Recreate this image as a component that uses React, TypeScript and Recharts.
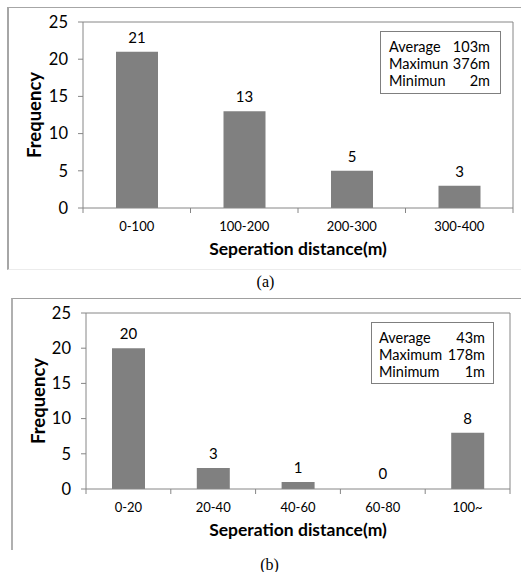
import { BarChart, Bar, XAxis, YAxis, CartesianGrid, LabelList, Rectangle } from 'recharts'

// (a) separation distance, 100 m bins
const catsA = ['0-100', '100-200', '200-300', '300-400']
const freqA = [21, 13, 5, 3]
const statLabelsA = ['Average', 'Maximun', 'Minimun']
const statValuesA = ['103m', '376m', '2m']

// (b) separation distance, 20 m bins
const catsB = ['0-20', '20-40', '40-60', '60-80', '100~']
const freqB = [20, 3, 1, 0, 8]
const statLabelsB = ['Average', 'Maximum', 'Minimum']
const statValuesB = ['43m', '178m', '1m']

const yTicks = [0, 5, 10, 15, 20, 25]

const FONT = 'Lato, "Open Sans", sans-serif'
const AXIS = '#868686'

interface Margin {
  top: number
  right: number
  bottom: number
  left: number
}

interface HistProps {
  cats: string[]
  freq: number[]
  width: number
  height: number
  margin: Margin
  yAxisWidth: number
  xAxisHeight: number
  barSize: number
}

// zero-count bins keep their label but draw no rectangle
const BarShape = (props: any) => {
  if (!props.value) return <g />
  return <Rectangle {...props} />
}

function Hist({ cats, freq, width, height, margin, yAxisWidth, xAxisHeight, barSize }: HistProps) {
  const data = cats.map((c, i) => ({ cat: c, value: freq[i] }))
  const plotW = width - margin.left - margin.right - yAxisWidth
  const band = plotW / cats.length
  const axisY = height - margin.bottom - xAxisHeight

  // tick marks sit on the category boundaries, like Excel
  const BoundaryTick = (props: any) => {
    const { x, payload, index } = props
    const left = x - band / 2
    return (
      <g>
        <line x1={left} x2={left} y1={axisY} y2={axisY + 5} stroke={AXIS} />
        {index === cats.length - 1 && (
          <line x1={left + band} x2={left + band} y1={axisY} y2={axisY + 5} stroke={AXIS} />
        )}
        <text x={x} y={axisY + 23} textAnchor="middle" fontSize={13} fill="#000" fontFamily={FONT}>
          {payload.value}
        </text>
      </g>
    )
  }

  return (
    <BarChart width={width} height={height} data={data} margin={margin}>
      <CartesianGrid
        stroke={AXIS}
        horizontalCoordinatesGenerator={({ offset }: any) => [offset.top]}
        verticalCoordinatesGenerator={({ offset }: any) => [offset.left + offset.width]}
      />
      <XAxis
        dataKey="cat"
        height={xAxisHeight}
        axisLine={{ stroke: AXIS }}
        tickLine={false}
        tick={BoundaryTick}
        interval={0}
        label={{
          value: 'Seperation distance(m)',
          position: 'insideBottom',
          offset: 13,
          style: { fontFamily: FONT, fontSize: 17.5, fontWeight: 700, fill: '#000' },
        }}
      />
      <YAxis
        width={yAxisWidth}
        domain={[0, 25]}
        ticks={yTicks}
        interval={0}
        axisLine={{ stroke: AXIS }}
        tickLine={{ stroke: AXIS }}
        tickSize={5}
        tickMargin={10}
        tick={{ fontFamily: FONT, fontSize: 16.5, fill: '#000' }}
        label={{
          value: 'Frequency',
          angle: -90,
          position: 'insideLeft',
          offset: 12,
          style: { fontFamily: FONT, fontSize: 18.5, fontWeight: 700, fill: '#000', textAnchor: 'middle' },
        }}
      />
      <Bar
        dataKey="value"
        fill="#808080"
        barSize={barSize}
        minPointSize={1}
        shape={BarShape}
        isAnimationActive={false}
      >
        <LabelList dataKey="value" position="top" offset={9} style={{ fontFamily: FONT, fontSize: 15, fill: '#000' }} />
      </Bar>
    </BarChart>
  )
}

function StatBox({ labels, values, left, top, width, height, padL, padR }: any) {
  return (
    <div
      style={{
        position: 'absolute',
        left,
        top,
        width,
        height,
        boxSizing: 'border-box',
        border: '1px solid #7f7f7f',
        background: '#fff',
        padding: `6px ${padR}px 0 ${padL}px`,
        fontFamily: FONT,
        fontSize: 14.5,
        color: '#000',
      }}
    >
      {labels.map((l: string, i: number) => (
        <div key={l} style={{ display: 'flex', justifyContent: 'space-between', height: 17, lineHeight: '17px' }}>
          <span>{l}</span>
          <span>{values[i]}</span>
        </div>
      ))}
    </div>
  )
}

export default function App() {
  return (
    <div style={{ position: 'absolute', left: 0, top: 0, width: 521, height: 572, background: '#fff' }}>
      {/* panel (a) */}
      <div
        style={{
          position: 'absolute',
          left: 7,
          top: 7,
          width: 514,
          height: 263,
          boxSizing: 'border-box',
          borderTop: '1px solid #a6a6a6',
          borderLeft: '2px solid #a6a6a6',
          borderBottom: '1px solid #ececec',
        }}
      />
      <div style={{ position: 'absolute', left: 0, top: 0 }}>
        <Hist
          cats={catsA}
          freq={freqA}
          width={521}
          height={290}
          margin={{ top: 22, right: 8, bottom: 22, left: 22 }}
          yAxisWidth={61}
          xAxisHeight={60}
          barSize={42}
        />
      </div>
      <StatBox labels={statLabelsA} values={statValuesA} left={380} top={31} width={121} height={63} padL={8} padR={10} />
      <div style={{ position: 'absolute', left: 0, width: 521, top: 273, textAlign: 'center', fontFamily: '"Liberation Serif", serif', fontSize: 16, paddingLeft: 10, boxSizing: 'border-box' }}>
        (a)
      </div>

      {/* panel (b) */}
      <div
        style={{
          position: 'absolute',
          left: 11,
          top: 298,
          width: 510,
          height: 252,
          boxSizing: 'border-box',
          borderTop: '1px solid #a0a0a0',
          borderLeft: '2px solid #b0b0b0',
        }}
      />
      <div style={{ position: 'absolute', left: 0, top: 290 }}>
        <Hist
          cats={catsB}
          freq={freqB}
          width={521}
          height={282}
          margin={{ top: 23, right: 11, bottom: 23, left: 26 }}
          yAxisWidth={60}
          xAxisHeight={60}
          barSize={33}
        />
      </div>
      <StatBox labels={statLabelsB} values={statValuesB} left={371} top={322} width={123} height={62} padL={7} padR={8} />
      <div style={{ position: 'absolute', left: 0, width: 521, top: 556, textAlign: 'center', fontFamily: '"Liberation Serif", serif', fontSize: 16, paddingLeft: 18, boxSizing: 'border-box' }}>
        (b)
      </div>
    </div>
  )
}
